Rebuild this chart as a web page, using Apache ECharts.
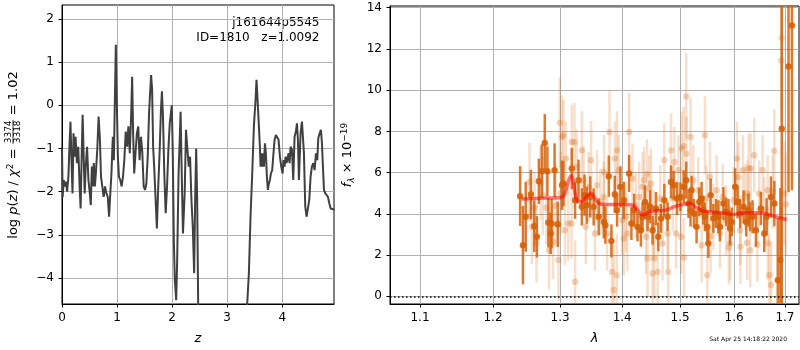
<!DOCTYPE html>
<html><head><meta charset="utf-8">
<script src="https://cdn.jsdelivr.net/npm/echarts@6/dist/echarts.min.js"></script>
<style>html,body{margin:0;padding:0;background:#fff}#c{width:800px;height:350px}</style>
</head><body><div id="c"></div>
<script>
// ---------- DATA ----------
const pzZ = [0.000,0.012,0.031,0.049,0.074,0.092,0.117,0.135,0.154,0.172,0.191,0.209,0.228,0.246,0.271,0.295,0.320,0.338,0.357,0.375,0.394,0.412,0.431,0.455,0.480,0.505,0.523,0.542,0.560,0.578,0.597,0.615,0.640,0.665,0.689,0.708,0.732,0.757,0.782,0.806,0.831,0.855,0.874,0.898,0.923,0.942,0.960,0.978,0.997,1.015,1.034,1.058,1.083,1.108,1.132,1.157,1.182,1.206,1.231,1.255,1.274,1.292,1.311,1.335,1.360,1.385,1.409,1.434,1.458,1.483,1.508,1.532,1.557,1.582,1.600,1.618,1.637,1.655,1.674,1.698,1.723,1.748,1.772,1.797,1.815,1.834,1.858,1.883,1.908,1.932,1.957,1.975,1.994,2.012,2.031,2.049,2.074,2.092,2.117,2.142,2.154,2.172,2.197,2.228,2.252,2.277,2.302,2.326,2.351,2.375,2.400,2.418,2.437,2.455,2.474,2.500,3.340,3.364,3.394,3.424,3.455,3.485,3.515,3.533,3.552,3.576,3.594,3.606,3.618,3.630,3.648,3.667,3.685,3.703,3.721,3.739,3.758,3.776,3.794,3.818,3.836,3.861,3.885,3.909,3.933,3.958,3.982,4.006,4.024,4.042,4.061,4.079,4.097,4.115,4.133,4.152,4.176,4.200,4.224,4.248,4.267,4.285,4.303,4.333,4.358,4.376,4.394,4.418,4.442,4.467,4.491,4.515,4.539,4.564,4.588,4.612,4.636,4.655,4.679,4.703,4.721,4.739,4.758,4.782,4.806,4.830,4.855,4.879,4.909,4.950];
const pzLogp = [-1.00,-2.12,-1.73,-1.88,-1.77,-2.00,-1.65,-0.96,-0.38,-1.27,-2.04,-0.65,-1.19,-0.73,-1.34,-0.96,-1.88,-2.39,-1.19,-0.22,-1.19,-2.04,-1.42,-0.96,-1.73,-2.04,-2.31,-1.42,-1.88,-1.34,-1.88,-1.58,-1.03,-0.26,-0.80,-1.65,-1.88,-2.12,-1.88,-2.04,-2.12,-2.58,-2.12,-1.58,-0.73,-1.27,0.12,1.40,-0.03,-1.19,-1.65,-1.73,-1.88,-1.65,-1.27,-0.61,-0.96,-0.49,-1.11,-0.26,0.66,-0.65,-1.58,-1.11,-0.65,-0.49,-1.27,-0.73,-1.07,-1.88,-1.96,-1.81,-1.19,-0.15,-0.11,0.70,0.36,-0.96,-1.42,-2.12,-2.85,-1.88,-1.11,-0.11,0.32,-0.26,-1.58,-2.50,-1.88,-1.03,-0.42,-0.38,0.00,-1.11,-3.12,-4.05,-4.51,-3.58,-1.58,-0.65,-0.15,-1.42,-2.97,-2.04,-0.57,-1.00,-1.42,-1.19,-2.19,-2.81,-3.89,-2.19,-1.00,-2.19,-4.74,-9.0,-9.0,-4.59,-3.89,-2.58,-1.58,-0.49,0.12,0.59,0.12,-0.49,-0.96,-1.42,-1.11,-1.42,-1.11,-1.42,-0.88,-1.11,-1.65,-1.96,-1.81,-1.73,-1.58,-1.50,-1.19,-0.80,-0.69,-0.69,-0.80,-1.19,-1.42,-1.58,-1.27,-1.42,-1.19,-1.34,-1.23,-1.11,-1.34,-0.96,-1.03,-1.73,-0.73,-0.61,-0.42,-0.80,-1.73,-0.65,-0.38,-0.42,-1.11,-2.35,-2.58,-2.58,-2.19,-1.65,-1.42,-1.34,-1.50,-1.11,-1.27,-0.76,-0.65,-0.57,-0.88,-1.42,-1.96,-2.04,-2.04,-2.12,-2.27,-2.39,-2.42,-2.42];

const darkLam = [1.2395,1.2437,1.2478,1.2555,1.2605,1.2645,1.2675,1.2720,1.2765,1.2805,1.2820,1.2855,1.2870,1.2915,1.2965,1.3030,1.3053,1.3183,1.3235,1.3289,1.3342,1.3385,1.3422,1.3476,1.3531,1.3613,1.3695,1.3722,1.3778,1.3821,1.3877,1.3915,1.3970,1.4027,1.4116,1.4155,1.4201,1.4258,1.4316,1.4344,1.4385,1.4431,1.4477,1.4517,1.4576,1.4616,1.4663,1.4721,1.4779,1.4840,1.4886,1.4947,1.5007,1.5067,1.5111,1.5153,1.5189,1.5207,1.5250,1.5299,1.5348,1.5391,1.5422,1.5452,1.5496,1.5515,1.5558,1.5608,1.5657,1.5702,1.5732,1.5797,1.5846,1.5892,1.5923,1.5955,1.6019,1.6065,1.6115,1.6181,1.6232,1.6278,1.6309,1.6356,1.6421,1.6519,1.6585,1.6632,1.6719,1.6786,1.6854,1.6907,1.6935,1.7072,1.7142];
const darkFlux = [4.86,2.48,3.86,4.94,3.40,2.89,5.58,6.07,7.44,6.07,3.58,3.05,3.53,6.12,3.50,5.39,5.47,6.20,4.66,5.63,4.34,4.91,4.42,4.82,4.34,3.86,3.61,3.45,5.83,2.69,4.95,4.18,5.31,4.66,5.96,3.53,4.18,3.37,3.21,3.86,4.58,3.86,4.34,3.21,4.26,2.89,3.78,4.66,3.86,5.55,5.39,4.75,4.82,5.31,5.63,4.50,4.18,5.15,4.02,3.37,4.58,4.75,4.18,3.86,3.37,2.57,4.91,3.78,4.02,3.86,3.37,4.50,4.10,4.02,3.29,3.61,5.31,4.58,4.02,4.34,3.61,4.18,3.86,3.86,3.21,4.26,3.05,3.86,4.82,4.50,0.79,1.76,8.13,11.15,13.14];
const darkErr = [1.45,1.9,1.7,1.2,1.25,1.0,1.1,1.3,1.4,1.2,1.2,1.0,1.2,1.3,1.1,1.2,1.1,1.0,0.9,1.0,0.9,1.0,0.9,1.0,0.9,0.9,0.8,0.9,1.0,0.8,0.9,0.8,1.0,0.9,0.9,0.8,0.8,0.7,0.8,0.7,0.8,0.7,0.8,0.7,0.8,0.7,0.7,0.8,0.7,0.8,0.7,0.8,0.7,0.8,0.9,0.7,0.8,0.7,0.7,0.8,0.7,0.8,0.7,0.7,0.8,0.7,0.8,0.7,0.7,0.8,0.7,0.8,0.7,0.7,0.8,0.7,0.9,0.8,0.7,0.8,0.7,0.8,0.7,0.8,0.8,0.8,0.9,0.9,1.0,1.1,3.0,3.5,9.0,6.1,8.0];

const lightLam = [1.2535,1.2570,1.2610,1.2640,1.2700,1.2735,1.2790,1.2830,1.2890,1.2930,1.2975,1.2995,1.3030,1.3010,1.3053,1.3090,1.3075,1.3127,1.3180,1.3183,1.3225,1.3235,1.3260,1.3342,1.3370,1.3405,1.3450,1.3490,1.3553,1.3585,1.3640,1.3695,1.3700,1.3750,1.3790,1.3830,1.3860,1.3880,1.3915,1.3910,1.3940,1.3998,1.4027,1.4060,1.4087,1.4116,1.4172,1.4230,1.4287,1.4344,1.4373,1.4402,1.4420,1.4430,1.4460,1.4489,1.4517,1.4535,1.4547,1.4604,1.4651,1.4691,1.4721,1.4779,1.4790,1.4840,1.4869,1.4899,1.4929,1.4971,1.5019,1.5030,1.5067,1.5070,1.5111,1.5115,1.5189,1.5238,1.5330,1.5391,1.5452,1.5483,1.5496,1.5545,1.5558,1.5608,1.5670,1.5732,1.5783,1.5846,1.5900,1.5923,1.5988,1.6052,1.6084,1.6115,1.6120,1.6168,1.6212,1.6250,1.6257,1.6278,1.6309,1.6322,1.6388,1.6450,1.6486,1.6552,1.6585,1.6652,1.6655,1.6685,1.6719,1.6752,1.6786,1.6927,1.6935,1.6988,1.7022];
const lightFlux = [5.55,3.37,4.30,2.57,5.50,4.90,4.30,2.24,2.64,4.40,1.76,8.42,7.73,5.00,7.81,6.68,3.21,3.53,3.53,7.49,7.49,0.71,6.28,7.08,5.63,3.37,5.31,6.60,3.05,5.39,4.58,4.82,6.03,3.05,7.97,1.19,0.31,6.68,7.08,1.02,6.12,3.70,2.81,3.86,3.05,7.97,5.71,4.42,4.82,5.31,5.63,2.89,5.92,1.84,5.23,5.47,1.11,3.45,1.84,1.19,4.75,2.57,6.60,3.05,1.19,7.08,4.75,6.52,3.05,6.12,2.89,7.17,7.28,1.89,9.70,6.92,7.73,5.63,5.15,2.48,7.81,4.75,1.03,5.79,2.92,3.86,5.15,3.05,4.82,3.70,2.37,2.57,4.66,6.68,5.79,3.21,2.40,6.12,4.82,2.60,4.99,6.20,2.24,6.20,6.84,2.50,4.99,6.12,4.18,5.15,2.57,1.03,0.55,5.07,7.05,11.44,12.54,4.99,4.47];
const lightErr = [1.9,1.8,1.7,1.9,1.8,1.9,1.8,1.9,1.8,2.0,2.0,2.2,2.0,2.0,1.7,1.8,1.7,1.8,1.7,1.8,1.9,2.0,1.8,1.9,1.7,1.8,1.7,1.9,1.8,1.7,1.6,1.7,1.8,1.8,2.0,2.0,2.2,1.8,1.9,2.0,1.7,1.7,1.8,1.7,1.8,1.9,1.7,1.6,1.7,1.7,1.6,1.8,1.7,1.9,1.6,1.7,2.0,1.7,1.9,2.0,1.6,1.8,1.8,1.7,1.9,1.8,1.6,1.7,1.7,1.7,1.8,1.8,1.9,1.9,2.1,1.8,1.9,1.7,1.6,1.8,1.9,1.6,2.0,1.7,1.8,1.6,1.7,1.7,1.6,1.7,1.8,1.8,1.6,1.8,1.7,1.7,1.8,1.7,1.6,1.8,1.6,1.7,1.8,1.7,1.8,1.8,1.6,1.7,1.6,1.7,1.8,2.0,2.1,1.8,2.0,3.0,3.5,2.5,2.5];

const modelLam = [1.242,1.26,1.28,1.30,1.306,1.311,1.315,1.318,1.321,1.324,1.328,1.333,1.339,1.345,1.350,1.355,1.362,1.372,1.39,1.405,1.418,1.426,1.434,1.440,1.447,1.46,1.475,1.49,1.505,1.518,1.527,1.54,1.56,1.58,1.598,1.61,1.624,1.64,1.656,1.67,1.683,1.7035];
const modelFlux = [4.72,4.74,4.77,4.78,4.90,5.35,5.75,5.85,5.50,4.90,4.60,4.58,4.75,4.95,5.00,4.75,4.50,4.45,4.45,4.45,4.42,4.20,3.95,4.00,4.12,4.15,4.18,4.35,4.45,4.50,4.35,4.15,4.08,4.05,3.97,4.02,4.06,4.06,4.04,3.95,3.85,3.73];

const zTicks = [0,1,2,3,4];
const logpTicks = [-4,-3,-2,-1,0,1,2];
const lamTicks = [1.1,1.2,1.3,1.4,1.5,1.6,1.7];
const fluxTicks = [0,2,4,6,8,10,12,14];

const objName = 'j161644p5545';
const idLine = 'ID=1810   z=1.0092';
const chi2Num = '3374', chi2Den = '3318', chi2Val = '1.02';
const stamp = 'Sat Apr 25 14:18:22 2020';

// ---------- CHART ----------
const FF = 'DejaVu Sans';
const minus = v => (v < 0 ? '\u2212' + Math.abs(v) : String(v));
const chart = echarts.init(document.getElementById('c'), null, {renderer: 'canvas'});

function axisCommon(ticks, fmt) {
  return {
    axisLine: {show: true, onZero: false, lineStyle: {color: '#000', width: 1}},
    axisTick: {show: true, customValues: ticks, length: 3.5, lineStyle: {color: '#000', width: 1}},
    axisLabel: {customValues: ticks, color: '#000', fontSize: 12, fontFamily: FF, formatter: fmt},
    splitLine: {show: true, lineStyle: {color: '#b0b0b0', width: 1}}
  };
}

const ctx = document.createElement('canvas').getContext('2d');
function tw(s, font) { ctx.font = font; return ctx.measureText(s).width; }
const fs = 13, fsS = 9;
const fN = fs + 'px "' + FF + '"', fI = 'italic ' + fN, fSm = fsS + 'px "' + FF + '"';
const wA = tw('log ', fN) + tw('p', fI) + tw('(', fN) + tw('z', fI) + tw(') / ', fN) + tw('\u03c7', fI) + tw('2', fSm) + tw(' = ', fN);
const wF = Math.max(tw(chi2Num, fSm), tw(chi2Den, fSm));
const wB = tw(' = ' + chi2Val, fN);
const L = wA + wF + 2 + wB;

const erItem = (stroke, fill, lw, r) => function (params, api) {
  const x = api.value(0), y = api.value(1), e = api.value(2);
  const a = api.coord([x, y + e]), b = api.coord([x, y - e]), c = api.coord([x, y]);
  return {type: 'group', children: [
    {type: 'line', shape: {x1: a[0], y1: a[1], x2: b[0], y2: b[1]}, style: {stroke: stroke, lineWidth: lw}},
    {type: 'circle', shape: {cx: c[0], cy: c[1], r: r}, style: {fill: fill}}
  ]};
};

const option = {
  animation: false,
  textStyle: {fontFamily: FF},
  grid: [
    {left: 62, top: 5, width: 272, height: 299, show: true, borderColor: '#000', borderWidth: 1, backgroundColor: 'rgba(0,0,0,0)'},
    {left: 390, top: 6, width: 409, height: 298, show: true, borderColor: '#000', borderWidth: 1, backgroundColor: 'rgba(0,0,0,0)'}
  ],
  xAxis: [
    Object.assign({gridIndex: 0, type: 'value', min: 0, max: 4.94,
      name: 'z', nameLocation: 'middle', nameGap: 28,
      nameTextStyle: {fontStyle: 'italic', fontSize: 13, color: '#000', fontFamily: FF}}, axisCommon(zTicks, v => String(v))),
    Object.assign({gridIndex: 1, type: 'log', logBase: 10, min: 1.0613, max: 1.7287,
      name: '\u03bb', nameLocation: 'middle', nameGap: 28,
      nameTextStyle: {fontStyle: 'italic', fontSize: 13, color: '#000', fontFamily: FF}}, axisCommon(lamTicks, v => Number(v).toFixed(1)))
  ],
  yAxis: [
    Object.assign({gridIndex: 0, type: 'value', min: -4.6, max: 2.32}, axisCommon(logpTicks, minus)),
    Object.assign({gridIndex: 1, type: 'value', min: -0.37, max: 14.08,
      name: '{i|f}{sub|\u03bb} \u00d7 10{sup|\u221219}', nameLocation: 'middle', nameRotate: 90, nameGap: 30,
      nameTextStyle: {color: '#000', fontSize: 13, fontFamily: FF, rich: {
        i: {fontStyle: 'italic', fontSize: 13, fontFamily: FF, color: '#000'},
        sub: {fontStyle: 'italic', fontSize: 9, fontFamily: FF, color: '#000', padding: [7, 0, 0, 0]},
        sup: {fontSize: 9, fontFamily: FF, color: '#000', padding: [0, 0, 7, 0]}
      }}}, axisCommon(fluxTicks, v => String(v)))
  ],
  series: [
    {type: 'line', xAxisIndex: 0, yAxisIndex: 0, data: pzZ.map((z, i) => [z, pzLogp[i]]),
      showSymbol: false, clip: true, lineStyle: {color: '#404040', width: 2}, z: 5},
    {type: 'custom', xAxisIndex: 1, yAxisIndex: 1, clip: true, z: 3,
      data: lightLam.map((l, i) => [l, lightFlux[i], lightErr[i]]),
      renderItem: erItem('rgba(220,110,25,0.22)', 'rgba(220,110,25,0.3)', 2.5, 3.2),
      markLine: {silent: true, symbol: 'none', label: {show: false},
        lineStyle: {color: '#000', width: 1.5, type: [1.5, 2.5]}, data: [{yAxis: 0}]}},
    {type: 'custom', xAxisIndex: 1, yAxisIndex: 1, clip: true, z: 4,
      data: darkLam.map((l, i) => [l, darkFlux[i], darkErr[i]]),
      renderItem: erItem('rgba(214,98,10,0.85)', 'rgba(214,98,10,0.9)', 2.5, 3.2)},
    {type: 'line', xAxisIndex: 1, yAxisIndex: 1, data: modelLam.map((l, i) => [l, modelFlux[i]]),
      showSymbol: false, smooth: 0.3, clip: true, lineStyle: {color: 'rgba(255,0,0,0.55)', width: 3.5}, z: 6}
  ],
  graphic: [
    {type: 'text', right: 800 - 319.5, top: 17, style: {text: objName, font: '12px "' + FF + '"', fill: '#000', textAlign: 'right'}},
    {type: 'text', right: 800 - 319.5, top: 32, style: {text: idLine, font: '12px "' + FF + '"', fill: '#000', textAlign: 'right'}},
    {type: 'text', right: 13, top: 336, style: {text: stamp, font: '6px "' + FF + '"', fill: '#000'}},
    {type: 'group', x: 14, y: 155 + L / 2, rotation: Math.PI / 2, children: [
      {type: 'text', x: 0, y: 0, style: {
        text: 'log {i|p}(\u200b{i|z}) / {i|\u03c7}{s|2} = ', font: fN, fill: '#000', textAlign: 'left', textVerticalAlign: 'middle',
        rich: {i: {font: fI, fill: '#000'}, s: {font: fSm, fill: '#000', padding: [0, 0, 7, 0]}}}},
      {type: 'text', x: wA + 1 + wF / 2, y: -5.5, style: {text: chi2Num, font: fSm, fill: '#000', textAlign: 'center', textVerticalAlign: 'middle'}},
      {type: 'line', shape: {x1: wA + 0.5, y1: -1, x2: wA + 1.5 + wF, y2: -1}, style: {stroke: '#000', lineWidth: 0.8}},
      {type: 'text', x: wA + 1 + wF / 2, y: 4, style: {text: chi2Den, font: fSm, fill: '#000', textAlign: 'center', textVerticalAlign: 'middle'}},
      {type: 'text', x: wA + wF + 2, y: 0, style: {text: ' = ' + chi2Val, font: fN, fill: '#000', textAlign: 'left', textVerticalAlign: 'middle'}}
    ]}
  ]
};
chart.setOption(option);
</script>
</body></html>
